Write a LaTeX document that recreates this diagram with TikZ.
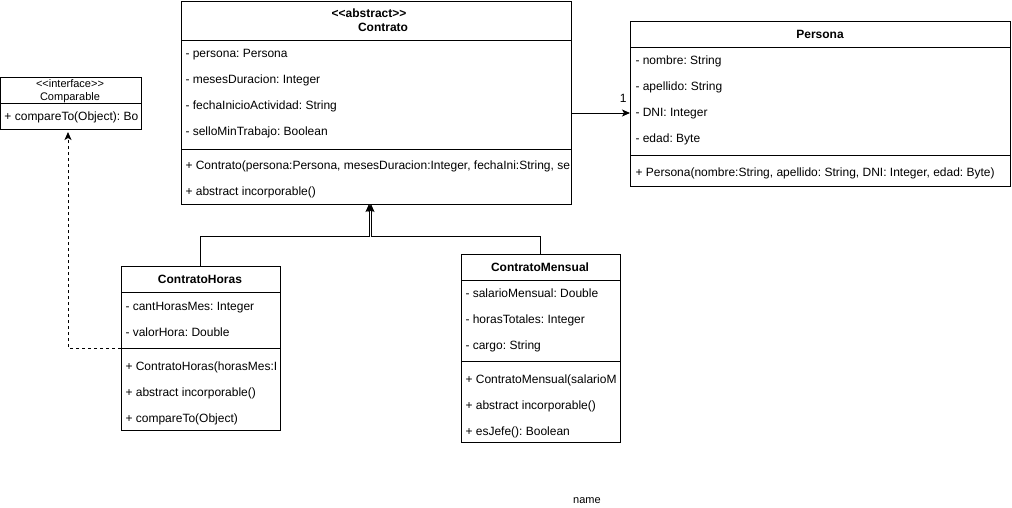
\documentclass[tikz,border=0pt]{standalone}
\usepackage{fontspec}
\setmainfont{Liberation Sans}
\usetikzlibrary{positioning,shapes,arrows.meta}

\newcommand{\umlfont}{\fontsize{12}{14}\selectfont}
\newcommand{\stereo}[1]{\textless\kern0pt\textless#1\textgreater\kern0pt\textgreater}
\frenchspacing

\begin{document}
\begin{tikzpicture}[x=1pt, y=-1pt, line width=1pt,
  box/.style={draw, rectangle, inner sep=0pt, outer sep=0pt, anchor=north west},
  row/.style={anchor=base west, inner sep=0pt, font=\umlfont},
  head/.style={anchor=base, inner sep=0pt, font=\umlfont\bfseries},
  inh/.style={-{Stealth[length=8pt, width=7pt, inset=2pt]}},
  dep/.style={dashed, dash pattern=on 3pt off 3pt, -{Stealth[length=8pt, width=7pt, inset=2pt]}}]
\useasboundingbox (0,0) rectangle (1012,507);

% Contrato (top middle)
\node[box, minimum width=390pt, minimum height=203pt] (contrato) at (181,1) {};
\begin{scope}
  \clip (contrato.north west) rectangle (contrato.south east);
  \node[head] (contratoStereo) at (369,17.5) {\stereo{abstract}};
  \node[head] (contratoName) at (383,31.5) {Contrato};
  \draw (181,40) -- (571,40);
  \foreach \t [count=\i] in {- persona: Persona, - mesesDuracion: Integer,
      - fechaInicioActividad: String, - selloMinTrabajo: Boolean}
    \node[row] (contratoA\i) at (185,31.5+26*\i) {\t};
  \draw (181,149) -- (571,149);
  \foreach \t [count=\i] in {{+ Contrato(persona:Persona, mesesDuracion:Integer, fechaIni:String, se},
      + abstract incorporable()}
    \node[row] (contratoM\i) at (185,143.5+26*\i) {\t};
\end{scope}

% Comparable (left)
\node[box, minimum width=141pt, minimum height=52pt] (comparable) at (0,77) {};
\begin{scope}
  \clip (comparable.north west) rectangle (comparable.south east);
  \node[anchor=base, inner sep=0pt, font=\fontsize{11}{13}\selectfont] (comparableStereo) at (70,87) {\stereo{interface}};
  \node[anchor=base, inner sep=0pt, font=\fontsize{11}{13}\selectfont] (comparableName) at (70,100) {Comparable};
  \draw (0,103) -- (141,103);
  \node[row] (comparableM1) at (4,120.5) {+ compareTo(Object): Bo};
\end{scope}

% Persona (top right)
\node[box, minimum width=380pt, minimum height=165pt] (persona) at (630,21) {};
\begin{scope}
  \clip (persona.north west) rectangle (persona.south east);
  \node[head] (personaName) at (820,38.5) {Persona};
  \draw (630,47) -- (1010,47);
  \foreach \t [count=\i] in {- nombre: String, - apellido: String, - DNI: Integer, - edad: Byte}
    \node[row] (personaA\i) at (635,38.5+26*\i) {\t};
  \draw (630,155) -- (1010,155);
  \node[row] (personaM1) at (635,176.5) {+ Persona(nombre:String, apellido: String, DNI: Integer, edad: Byte)};
\end{scope}

% ContratoHoras (bottom left)
\node[box, minimum width=159pt, minimum height=164pt] (horas) at (121,266) {};
\begin{scope}
  \clip (horas.north west) rectangle (horas.south east);
  \node[head] (horasName) at (200,283.5) {ContratoHoras};
  \draw (121,292) -- (280,292);
  \foreach \t [count=\i] in {- cantHorasMes: Integer, - valorHora: Double}
    \node[row] (horasA\i) at (125,284.5+26*\i) {\t};
  \draw (121,348) -- (280,348);
  \foreach \t [count=\i] in {+ ContratoHoras(horasMes:I, + abstract incorporable(), + compareTo(Object)}
    \node[row] (horasM\i) at (125,344.5+26*\i) {\t};
\end{scope}

% ContratoMensual (bottom middle)
\node[box, minimum width=159pt, minimum height=188pt] (mensual) at (461,254) {};
\begin{scope}
  \clip (mensual.north west) rectangle (mensual.south east);
  \node[head] (mensualName) at (540,271.5) {ContratoMensual};
  \draw (461,280) -- (620,280);
  \foreach \t [count=\i] in {- salarioMensual: Double, - horasTotales: Integer, - cargo: String}
    \node[row] (mensualA\i) at (465,271.5+26*\i) {\t};
  \draw (461,361) -- (620,361);
  \foreach \t [count=\i] in {+ ContratoMensual(salarioM, + abstract incorporable(), + esJefe(): Boolean}
    \node[row] (mensualM\i) at (465,357.5+26*\i) {\t};
\end{scope}

% Generalisation to Contrato
\coordinate (jointL) at (369,236);
\coordinate (jointR) at (371,236);
\draw[inh] (horas.north) |- (jointL) -- (jointL |- contrato.south);
\draw[inh] (mensual.north) |- (jointR) -- (jointR |- contrato.south);

% Realisation of Comparable
\coordinate (bendI) at (68,348);
\draw[dep, shorten >=3pt] (horas.west) -- (bendI) -- (bendI |- comparable.south);

% Association Contrato -> Persona
\draw[inh] (contrato.east |- 0,113) -- (persona.west |- 0,113)
  node[anchor=south east, inner sep=0pt, font=\umlfont, xshift=-3pt, yshift=10pt] (mult) {1};

\node[anchor=base, inner sep=0pt, font=\fontsize{11}{13}\selectfont] (name) at (587,503) {name};
\end{tikzpicture}
\end{document}
